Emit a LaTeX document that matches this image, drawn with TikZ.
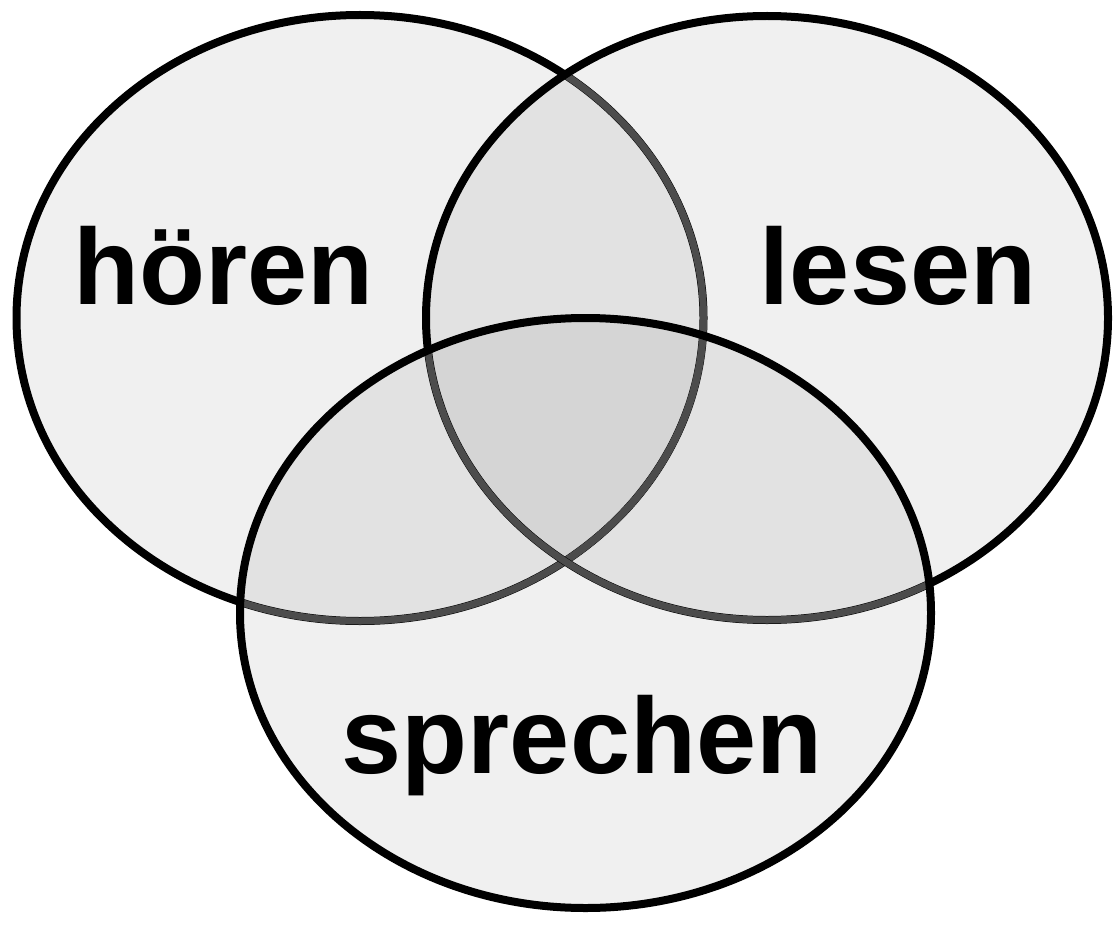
\documentclass[tikz,border=0pt]{standalone}
\usepackage{fontspec}
\setmainfont{Liberation Sans}
\begin{document}
\begin{tikzpicture}[x=1pt,y=-1pt,
  setfill/.style={fill=black,fill opacity=0.06},
  setline/.style={draw=black,line width=8pt},
  hidline/.style={draw=black!70,line width=7pt},
  lbl/.style={inner sep=0pt,anchor=base,font=\fontsize{108}{110}\selectfont\bfseries}]
\useasboundingbox (0,0) rectangle (1115,928);
\def\hoeren{(360,318) ellipse [x radius=343.5,y radius=303]}
\def\lesen{(767,318) ellipse [x radius=341,y radius=302]}
\def\sprechen{(585.5,613) ellipse [x radius=345.5,y radius=295]}
% fills
\path[setfill] \hoeren;
\path[setfill] \lesen;
\path[setfill] \sprechen;
% hoeren outline
\draw[setline] \hoeren;
\begin{scope}
  \clip \lesen;
  \draw[hidline] \hoeren;
\end{scope}
\begin{scope}
  \clip \sprechen;
  \draw[hidline] \hoeren;
\end{scope}
% lesen outline
\draw[setline] \lesen;
\begin{scope}
  \clip \sprechen;
  \draw[hidline] \lesen;
\end{scope}
% sprechen outline
\draw[setline] \sprechen;
% labels
\node[lbl] (h) at (223.5,304) {hören};
\node[lbl] (l) at (898,304) {lesen};
\node[lbl] (s) at (582,773) {sprechen};
\end{tikzpicture}
\end{document}
